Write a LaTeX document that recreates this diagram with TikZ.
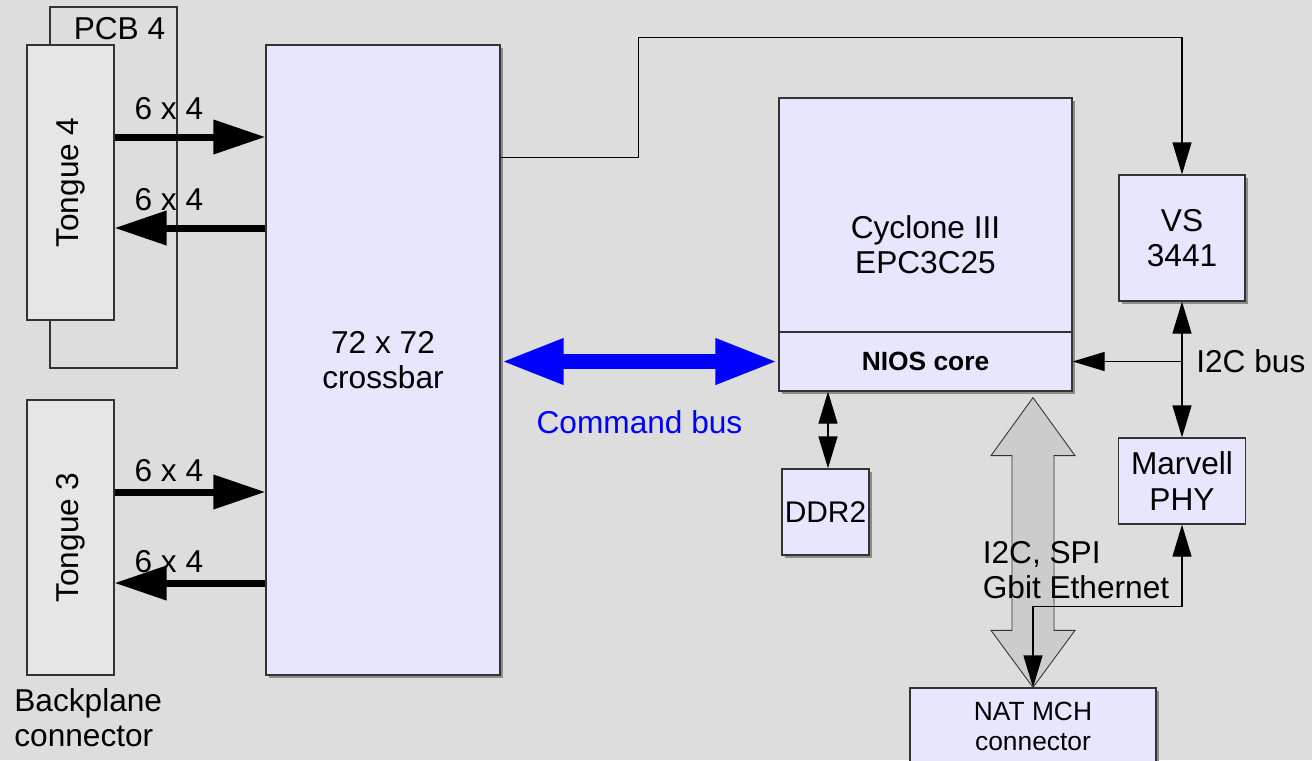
\documentclass[tikz,border=0pt]{standalone}
\usepackage{fontspec}
\setmainfont{Liberation Sans}
\usepackage{tikz}
\usetikzlibrary{positioning, arrows.meta, calc, shadows}

\definecolor{bggray}{HTML}{DDDDDD}
\definecolor{chipfill}{HTML}{E6E6FF}
\definecolor{tonguefill}{HTML}{E6E6E6}
\definecolor{busfill}{HTML}{CCCCCC}
\definecolor{edge}{HTML}{333333}

\begin{document}
\begin{tikzpicture}[
  x=0.2mm, y=-0.2mm,
  font=\fontsize{18}{20}\selectfont,
  every node/.style={align=center},
  chip/.style={draw=edge, line width=0.7pt, fill=chipfill},
  shadowed/.style={drop shadow={shadow xshift=0.6mm, shadow yshift=-0.6mm,
                   fill=black!45, opacity=1}},
  tongue/.style={draw=edge, line width=0.6pt, fill=tonguefill},
  board/.style={draw=edge, line width=0.6pt},
  arrow/.style={-{Triangle[length=6.4mm, width=3.8mm]}, line width=0.7pt},
  dblarrow/.style={{Triangle[length=6.4mm, width=3.8mm]}-{Triangle[length=6.4mm, width=3.8mm]},
                   line width=0.7pt},
  fatarrow/.style={-{Triangle[length=10.4mm, width=6.6mm]}, line width=1.4mm},
  busarrow/.style={{Triangle[length=12.6mm, width=8.4mm]}-{Triangle[length=12.6mm, width=8.4mm]},
                   line width=3mm, blue},
  small/.style={font=\fontsize{15}{17}\selectfont}
]

\path[use as bounding box, fill=bggray] (0,0) rectangle (1312,760);

% backplane side
\node[board, minimum width=25.4mm, minimum height=72.2mm] (pcb) at (113.5,187.5) {};
\node[anchor=north east, inner sep=0pt, xshift=-2.4mm, yshift=-2.1mm] (pcblbl) at (pcb.north east) {PCB 4};
\node[tongue, minimum width=17.4mm, minimum height=55mm] (t4) at (70.5,182.5) {};
\node[rotate=90] (t4lbl) at (t4) {Tongue 4};
\node[tongue, minimum width=17.4mm, minimum height=55mm] (t3) at (70.5,537.5) {};
\node[rotate=90] (t3lbl) at (t3) {Tongue 3};
\node[align=left, anchor=north west, inner sep=0pt] (bpl) at (14,688) {Backplane\\connector};

\node[chip, shadowed, minimum width=46.8mm, minimum height=126mm] (xbar) at (383,360)
  {72 x 72\\crossbar};

% FPGA and friends
\node[chip, shadowed, minimum width=58.6mm, minimum height=58.6mm] (cyc) at (925.5,244.5)
  {Cyclone III\\EPC3C25};
\node[chip, anchor=south, minimum width=58.6mm, minimum height=11.8mm,
      font=\fontsize{15}{17}\selectfont\bfseries] (nios) at (cyc.south) {NIOS core};
\node[chip, shadowed, minimum width=17.4mm, minimum height=17.2mm, inner sep=1pt,
      font=\fontsize{17}{19}\selectfont] (ddr) at (825.5,512) {DDR2};
\node[chip, shadowed, minimum width=25.2mm, minimum height=25.2mm] (vs) at (1182,238) {VS\\3441};
\node[chip, minimum width=25.4mm, minimum height=17.2mm] (phy) at (1182,481) {Marvell\\PHY};
\node[chip, shadowed, minimum width=49.2mm, minimum height=15.2mm, small] (nat) at (1033,726)
  {NAT MCH\\connector};

% 6 x 4 links
\draw[fatarrow] ([yshift=9.1mm]t4.east) -- ([yshift=9.1mm]t4.east -| xbar.west)
  node[pos=0.36, yshift=5.6mm] (l1) {6 x 4};
\draw[fatarrow] ([yshift=-9.1mm]t4.east -| xbar.west) -- ([yshift=-9.1mm]t4.east)
  node[pos=0.64, yshift=5.6mm] (l2) {6 x 4};
\draw[fatarrow] ([yshift=9.1mm]t3.east) -- ([yshift=9.1mm]t3.east -| xbar.west)
  node[pos=0.36, yshift=4.3mm] (l3) {6 x 4};
\draw[fatarrow] ([yshift=-9.1mm]t3.east -| xbar.west) -- ([yshift=-9.1mm]t3.east)
  node[pos=0.64, yshift=4.3mm] (l4) {6 x 4};

% command bus
\draw[busarrow] (xbar.east |- nios.west) -- (nios.west)
  node[midway, yshift=-12.2mm, text=blue] (cmdlbl) {Command bus};

% wide bus to the MCH
\coordinate (gtop) at ($(nat.north |- nios.south)+(0,6)$);
\coordinate (gbot) at (nat.north);
\draw[draw=edge, line width=0.5pt, fill=busfill]
  (gtop) -- ++(42,58) -- ++(-21,0) -- ($(gbot)+(21,-57)$) -- ++(21,0) -- (gbot)
  -- ++(-42,-57) -- ++(21,0) -- ($(gtop)+(-21,58)$) -- ++(-21,0) -- cycle;
\node[align=left] (buslbl) at (1076,570) {I2C, SPI\\Gbit Ethernet};

% thin connections
\draw[arrow] ($(xbar.north east)+(0,113)$) -| ++(138,-120) -| (vs.north);
\draw[dblarrow] ([xshift=0.5mm]ddr.north |- nios.south) -- ([xshift=0.5mm]ddr.north);
\draw[dblarrow] (vs.south) -- (phy.north);
\coordinate (i2c) at (vs.south |- nios.east);
\draw[arrow] (i2c) -- (nios.east);
\node[anchor=west, inner sep=0pt] (i2clbl) at ($(i2c)+(14,0)$) {I2C bus};
\draw[dblarrow] (phy.south) -- ++(0,82) -| (nat.north);

\end{tikzpicture}
\end{document}
